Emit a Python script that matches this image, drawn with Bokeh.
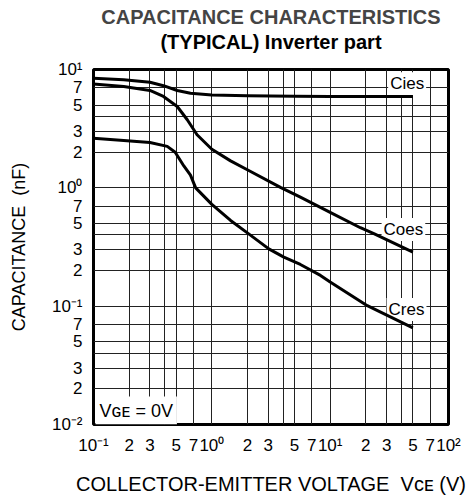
from bokeh.plotting import figure
from bokeh.models import FixedTicker, Label, Range1d, LinearAxis
from bokeh.embed import file_html
from bokeh.resources import INLINE

# ---- axes ----
X_TICKS = [0.1, 0.2, 0.3, 0.5, 0.7, 1, 2, 3, 5, 7, 10, 20, 30, 50, 70, 100]
X_LABELS = ["10⁻¹", "2", "3", "5", "7", "10⁰", "2", "3", "5", "7",
            "10¹", "2", "3", "5", "7", "10²"]
X_GRID = [0.1, 0.2, 0.3, 0.4, 0.5, 0.7, 1, 2, 3, 4, 5, 7,
          10, 20, 30, 40, 50, 70, 100]
Y_TICKS = [0.01, 0.02, 0.03, 0.05, 0.07, 0.1, 0.2, 0.3, 0.5, 0.7,
           1, 2, 3, 5, 7, 10]
Y_LABELS = ["10⁻²", "2", "3", "5", "7", "10⁻¹", "2", "3", "5", "7",
            "10⁰", "2", "3", "5", "7", "10¹"]
Y_GRID = [0.01, 0.02, 0.03, 0.04, 0.05, 0.07, 0.1, 0.2, 0.3, 0.4, 0.5, 0.7,
          1, 2, 3, 4, 5, 7, 10]

# ---- series (VCE in V, capacitance in nF) ----
V_CIES = [0.1, 0.18, 0.3, 0.39, 0.51, 0.66, 1.0, 2.0, 5.0, 10, 20, 50]
C_IES = [8.45, 8.2, 7.8, 7.3, 6.65, 6.3, 6.1, 6.0, 5.95, 5.92, 5.9, 5.9]

V_COES = [0.1, 0.18, 0.3, 0.39, 0.51, 0.62, 0.75, 1.0, 1.44, 2.05, 3.8,
          5.6, 10, 18, 23.4, 50]
C_OES = [7.55, 7.18, 6.65, 5.92, 4.87, 3.76, 2.81, 2.12, 1.69, 1.40, 1.01,
         0.834, 0.62, 0.46, 0.41, 0.286]

V_CRES = [0.1, 0.18, 0.3, 0.42, 0.49, 0.58, 0.66, 0.73, 1.0, 1.44, 2.05,
          3.03, 4.06, 5.6, 8.28, 10, 20.6, 50]
C_RES = [2.62, 2.51, 2.42, 2.24, 2.0, 1.53, 1.28, 1.0, 0.725, 0.53, 0.408,
         0.305, 0.26, 0.225, 0.182, 0.16, 0.101, 0.0656]

TITLE_LINES = ["CAPACITANCE CHARACTERISTICS", "(TYPICAL) Inverter part"]

FONT = "Liberation Sans"

p = figure(frame_width=355, frame_height=355,
           x_axis_type="log", y_axis_type="log",
           x_range=Range1d(0.1, 100), y_range=Range1d(0.01, 10),
           output_backend="svg", toolbar_location=None,
           min_border_left=93, min_border_right=18,
           min_border_top=69, min_border_bottom=74)

# keep explicit references to the real axes
xax = p.below[0]
yax = p.left[0]

p.background_fill_color = "white"
p.border_fill_color = "white"
p.outline_line_color = "black"
p.outline_line_width = 3

# first title line: the plot title (outermost)
p.title.text = TITLE_LINES[0]
p.title.align = "center"
p.title.vertical_align = "bottom"
p.title.text_font = FONT
p.title.text_font_size = "20px"
p.title.text_font_style = "bold"
p.title.standoff = 0

# second title line: label of a tick-less axis above the frame
top_axis = LinearAxis(ticker=FixedTicker(ticks=[]), axis_label=TITLE_LINES[1],
                      axis_label_standoff=17, major_label_standoff=0,
                      major_tick_in=0, major_tick_out=0,
                      minor_tick_in=0, minor_tick_out=0,
                      axis_line_color=None,
                      major_tick_line_color=None,
                      minor_tick_line_color=None,
                      axis_label_text_font=FONT,
                      axis_label_text_font_size="20px",
                      axis_label_text_font_style="bold",
                      axis_label_text_color="black")
p.add_layout(top_axis, "above")

# axes
xax.ticker = FixedTicker(ticks=X_TICKS)
xax.major_label_overrides = dict(zip(X_TICKS, X_LABELS))
yax.ticker = FixedTicker(ticks=Y_TICKS)
yax.major_label_overrides = dict(zip(Y_TICKS, Y_LABELS))
p.xgrid.ticker = FixedTicker(ticks=X_GRID)
p.ygrid.ticker = FixedTicker(ticks=Y_GRID)
p.grid.grid_line_color = "#222222"
p.grid.grid_line_width = 1

for ax in (xax, yax):
    ax.axis_line_color = None
    ax.major_tick_line_color = None
    ax.minor_tick_line_color = None
    ax.major_label_text_font = FONT
    ax.major_label_text_font_size = "17px"
    ax.major_label_text_color = "black"
    ax.axis_label_text_font = FONT
    ax.axis_label_text_font_style = "normal"
    ax.axis_label_text_color = "black"

xax.axis_label_text_font_size = "20px"
yax.axis_label_text_font_size = "18px"
xax.major_label_standoff = 5
yax.major_label_standoff = 5
xax.axis_label = "COLLECTOR-EMITTER VOLTAGE\u00a0 Vᴄᴇ (V)"
yax.axis_label = "CAPACITANCE\u00a0 (nF)"
xax.axis_label_standoff = 15
yax.axis_label_standoff = 20

# curves, drawn above the name boxes
for xs, ys in ((V_CIES, C_IES), (V_COES, C_OES), (V_CRES, C_RES)):
    p.line(xs, ys, line_width=3, line_color="black", line_join="round",
           level="overlay")

for txt, x, y in (("Cies", 33.4, 6.73), ("Coes", 29.4, 0.395),
                  ("Cres", 32.4, 0.0834)):
    p.add_layout(Label(x=x, y=y, x_offset=-4, y_offset=6, text=txt,
                       text_font=FONT, text_font_size="17px",
                       text_color="black", text_baseline="alphabetic",
                       background_fill_color="white", padding=2))

p.add_layout(Label(x=0.1, y=0.0119, x_offset=2, y_offset=5, text="Vɢᴇ = 0V",
                   text_font=FONT, text_font_size="18px", text_color="black",
                   text_baseline="alphabetic",
                   background_fill_color="white", padding=4))

open("out.html", "w").write(file_html(p, INLINE))
